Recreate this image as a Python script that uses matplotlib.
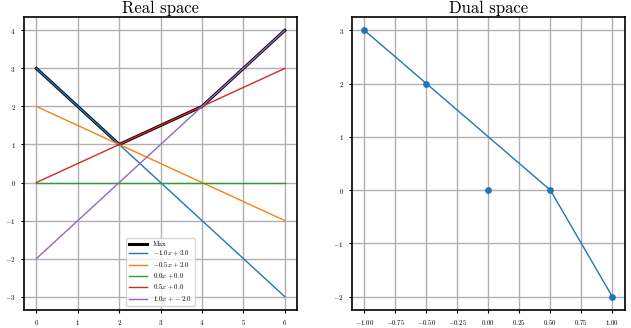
import numpy as np
import matplotlib
matplotlib.use('Agg')
import matplotlib.pyplot as plt

plt.rcParams['font.family'] = ['cmr10', 'DejaVu Serif']
plt.rcParams['mathtext.fontset'] = 'cm'
plt.rcParams['axes.formatter.use_mathtext'] = True

# lines y = a*x + b
slopes = [-1.0, -0.5, 0.0, 0.5, 1.0]
intercepts = [3.0, 2.0, 0.0, 0.0, -2.0]
x_range = [0, 6]

# dual space: upper hull points
hull_a = [-1.0, -0.5, 0.5, 1.0]
hull_b = [3.0, 2.0, 0.0, -2.0]

fig = plt.figure(figsize=(6.31, 3.28), dpi=100)
ax1 = fig.add_axes([0.038, 0.055, 0.433, 0.893])
ax2 = fig.add_axes([0.558, 0.055, 0.432, 0.893])

x = np.linspace(x_range[0], x_range[1], 61)
ys = [a * x + b for a, b in zip(slopes, intercepts)]
ax1.plot(x, np.max(ys, axis=0), color='black', lw=2.2, label='Max')
for a, b, y in zip(slopes, intercepts, ys):
    ax1.plot(x, y, lw=1, label=r'$%.1fx + %.1f$' % (a, b))
ax1.set_title('Real space', fontsize=12, pad=3)
ax1.grid(True, lw=1, color='#b0b0b0')
ax1.legend(loc='lower center', fontsize=5, handlelength=2.6, labelspacing=0.3)

ax2.plot(hull_a, hull_b, lw=1, color='tab:blue')
ax2.scatter(slopes, intercepts, s=15, color='tab:blue', zorder=3)
ax2.set_title('Dual space', fontsize=12, pad=3)
ax2.grid(True, lw=1, color='#b0b0b0')

for ax in (ax1, ax2):
    ax.tick_params(labelsize=5, length=2.5, width=0.8)
    for s in ax.spines.values():
        s.set_linewidth(1.2)
    ax.set_axisbelow(True)

fig.savefig('out.png', dpi=100)
